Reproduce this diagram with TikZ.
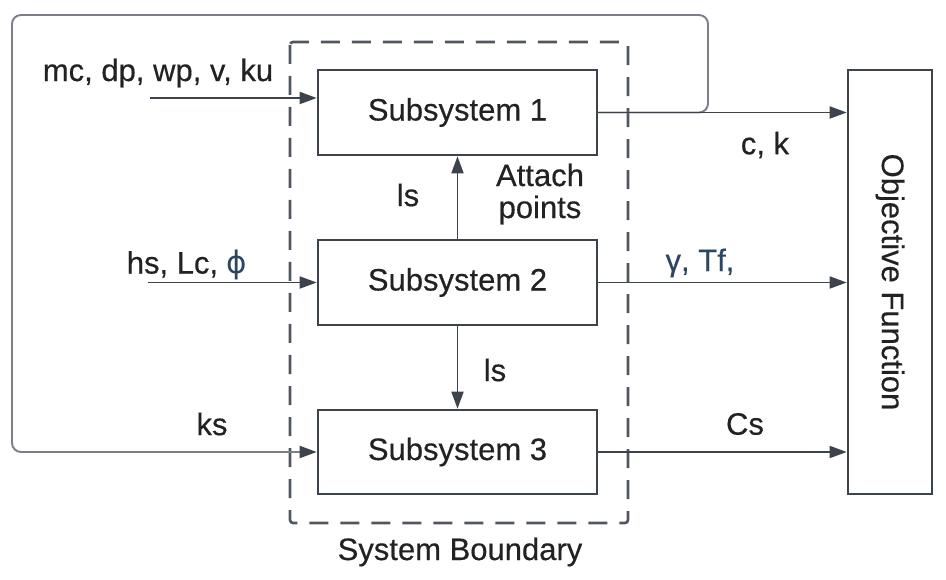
\documentclass[tikz,border=0pt]{standalone}
\usepackage{fontspec}
\setmainfont{Liberation Sans}[FakeBold=0.4]
\newfontfamily\symfont{DejaVu Sans}
\usetikzlibrary{arrows.meta}
\definecolor{boxline}{HTML}{3D434C}
\definecolor{loopline}{HTML}{7B8088}
\definecolor{txt}{HTML}{222222}
\definecolor{navy}{HTML}{2C4563}
\tikzset{
  subbox/.style={draw=boxline, line width=2.6pt, minimum width=279pt, minimum height=85pt, inner sep=0pt, font=\fontsize{31}{36}\selectfont, text=txt},
  conn/.style={draw=boxline, line width=1.8pt, -{Triangle[length=17pt,width=12pt]}},
  lbl/.style={font=\fontsize{31}{36}\selectfont, text=txt, inner sep=0pt},
}
\begin{document}
\begin{tikzpicture}[x=1pt,y=-1pt]
\useasboundingbox (0,0) rectangle (946,580);
% system boundary
\draw[boxline!90, line width=2.6pt, dash pattern=on 19pt off 12pt, rounded corners=3pt] (290,42) rectangle (628,523);
\node[lbl] (sb) at (460,552) {System Boundary};
% boxes
\node[subbox] (s1) at (457.5,112.5) {Subsystem 1};
\node[subbox] (s2) at (457.5,282.5) {Subsystem 2};
\node[subbox, minimum height=84pt] (s3) at (457.5,452) {Subsystem 3};
\node[draw=boxline, line width=2.6pt, minimum width=84pt, minimum height=424pt, inner sep=0pt] (obj) at (890,282) {};
\node[lbl, rotate=-90] (objt) at (obj.center) {Objective Function};
% feedback loop
\coordinate (fbA) at (708,112.5);
\coordinate (fbB) at (708,15);
\coordinate (fbC) at (12,15);
\coordinate (fbD) at (12,452);
\draw[draw=loopline, line width=1.9pt, rounded corners=9pt, -{Triangle[length=17pt,width=12pt,color=boxline]}] (s1.east) -- (fbA) -- (fbB) -- (fbC) -- (fbD) -- (s3.west);
% inputs
\coordinate (in1) at (150,98);
\coordinate (in2) at (148,282.5);
\draw[conn] (in1) -- (in1 -| s1.west);
\draw[conn] (in2) -- (s2.west);
% outputs
\draw[conn] (s1.east) -- (s1.east -| obj.west);
\draw[conn] (s2.east) -- (s2.east -| obj.west);
\draw[conn] (s3.east) -- (s3.east -| obj.west);
% internal
\draw[conn] (s2.north) -- (s1.south);
\draw[conn] (s2.south) -- (s3.north);
% labels
\node[lbl] (l1) at (158,73) {mc, dp, wp, v, ku};
\node[lbl] (l2) at (187,265) {hs, Lc, {\color{navy}\symfont ϕ}};
\node[lbl] (l3) at (212,424) {ks};
\node[lbl] (l4) at (408,195) {ls};
\node[lbl] (l5) at (495,370) {ls};
\node[lbl, align=center] (l6) at (540,194) {Attach\\[-4pt]points};
\node[lbl] (l7) at (765,145) {c, k};
\node[lbl, text=navy] (l8) at (700,263) {γ, Tf,};
\node[lbl] (l9) at (745,424) {Cs};
\end{tikzpicture}
\end{document}
